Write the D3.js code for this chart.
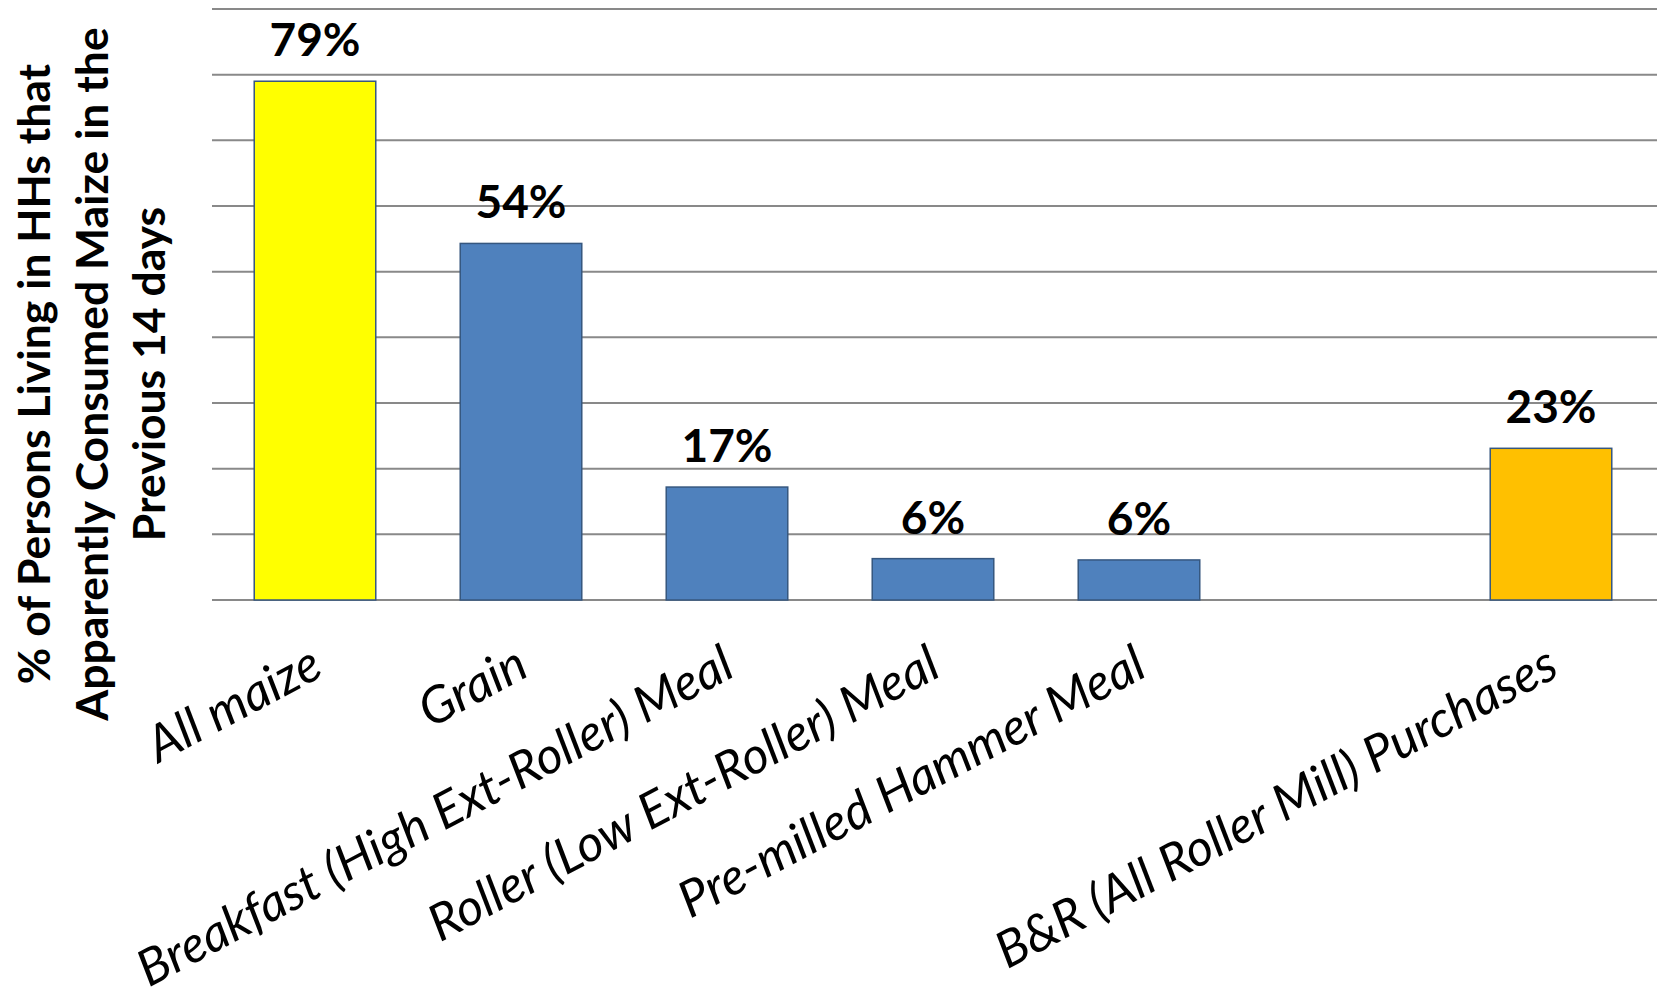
<!DOCTYPE html>
<html>
<head>
<meta charset="utf-8">
<script src="https://cdn.jsdelivr.net/npm/d3@7"></script>
<style>
  html, body { margin: 0; padding: 0; background: #fff; }
  svg { display: block; font-family: Lato, "Open Sans", sans-serif; }
</style>
</head>
<body>
<div id="chart"></div>
<script>
// categories in order, the empty slot is a gap in the original chart
const categories = [
  "All maize",
  "Grain",
  "Breakfast (High Ext-Roller) Meal",
  "Roller (Low Ext-Roller) Meal",
  "Pre-milled Hammer Meal",
  "",
  "B&R (All Roller Mill) Purchases"
]
const values = [79.0, 54.3, 17.2, 6.3, 6.1, null, 23.1]
const valueLabels = ["79%", "54%", "17%", "6%", "6%", "", "23%"]
const barColors = ["#ffff00", "#4f81bd", "#4f81bd", "#4f81bd", "#4f81bd", "#4f81bd", "#ffc000"]
const gridTicks = [0, 10, 20, 30, 40, 50, 60, 70, 80, 90]
const titleLines = [
  "% of Persons Living in HHs that",
  "Apparently Consumed Maize in the",
  "Previous 14 days"
]

const width = 1659
const height = 1004
const margin = { top: 9, right: 5, bottom: 404, left: 212 }

const svg = d3.select("#chart")
  .append("svg")
  .attr("width", width)
  .attr("height", height)

const x = d3.scaleBand()
  .domain(d3.range(categories.length))
  .range([margin.left, width - margin.right])
  .paddingInner(0.41)
  .paddingOuter(0.205)

const y = d3.scaleLinear()
  .domain([0, 90])
  .range([height - margin.bottom, margin.top])

// gridlines
svg.append("g")
  .selectAll("line")
  .data(gridTicks)
  .join("line")
  .attr("x1", margin.left)
  .attr("x2", width - 2)
  .attr("y1", d => y(d))
  .attr("y2", d => y(d))
  .attr("stroke", "#898989")
  .attr("stroke-width", 2)

const data = values.map((v, i) => ({ i, v, label: valueLabels[i], color: barColors[i] }))
  .filter(d => d.v != null)

svg.append("g")
  .selectAll("rect")
  .data(data)
  .join("rect")
  .attr("x", d => x(d.i))
  .attr("y", d => y(d.v))
  .attr("width", x.bandwidth())
  .attr("height", d => y(0) - y(d.v))
  .attr("fill", d => d.color)
  .attr("stroke", "#36577f")
  .attr("stroke-width", 1.5)

// value labels
svg.append("g")
  .selectAll("text")
  .data(data)
  .join("text")
  .attr("x", d => x(d.i) + x.bandwidth() / 2)
  .attr("y", d => y(d.v) - 25)
  .attr("text-anchor", "middle")
  .attr("font-size", 46)
  .attr("font-weight", "bold")
  .attr("fill", "#000")
  .text(d => d.label)

// category labels, slanted
svg.append("g")
  .selectAll("text")
  .data(categories)
  .join("text")
  .attr("transform", (d, i) => `translate(${x(i) + x.bandwidth() / 2 + 10},${675}) rotate(-28)`)
  .attr("text-anchor", "end")
  .attr("font-size", 50.5)
  .attr("font-style", "italic")
  .attr("fill", "#000")
  .text(d => d)

// y axis title
const title = svg.append("text")
  .attr("transform", "translate(50,374) rotate(-90)")
  .attr("text-anchor", "middle")
  .attr("font-size", 44.5)
  .attr("font-weight", "bold")
  .attr("fill", "#000")

title.selectAll("tspan")
  .data(titleLines)
  .join("tspan")
  .attr("x", 0)
  .attr("y", (d, i) => i * 57.5)
  .text(d => d)
</script>
</body>
</html>
